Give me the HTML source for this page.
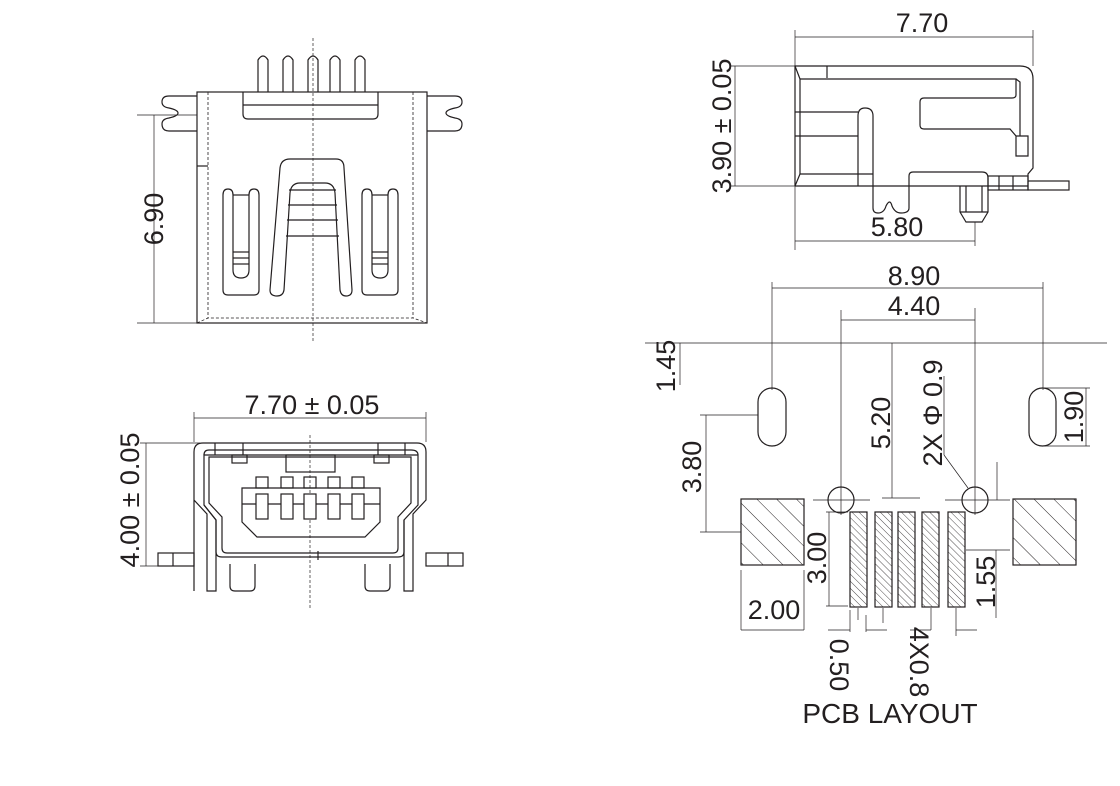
<!DOCTYPE html>
<html><head><meta charset="utf-8"><style>
html,body{margin:0;padding:0;background:#fff;}
svg{display:block}
text{font-family:"Liberation Sans",sans-serif;fill:#231f20;}
</style></head><body>
<svg width="1120" height="786" viewBox="0 0 1120 786" xmlns="http://www.w3.org/2000/svg">
<defs>
<pattern id="h1" patternUnits="userSpaceOnUse" width="14" height="14" patternTransform="rotate(-45)"><line x1="0" y1="0" x2="0" y2="14" stroke="#231f20" stroke-width="1"/></pattern>
<pattern id="h2" patternUnits="userSpaceOnUse" width="5" height="5" patternTransform="rotate(-45)"><line x1="0" y1="0" x2="0" y2="5" stroke="#231f20" stroke-width="0.8"/></pattern>
</defs>
<g fill="none" stroke="#231f20" stroke-width="1.2">
<!-- VIEW 1 top-left -->
<line x1="313" y1="38" x2="313" y2="342" stroke-dasharray="3,2" stroke-width="0.7"/>
<rect x="197" y="92" width="230" height="231"/>
<line x1="208" y1="92" x2="208" y2="318" stroke-dasharray="3,2" stroke-width="0.8"/>
<line x1="413" y1="92" x2="413" y2="318" stroke-dasharray="3,2" stroke-width="0.8"/>
<path d="M197,323 L208,318 L413,318 L427,323" stroke-dasharray="3,2" stroke-width="0.8"/>
<line x1="197" y1="166" x2="208" y2="166"/>
<path d="M243,92 L243,114 Q243,119 248,119 L373,119 Q378,119 378,114 L378,92"/>
<line x1="243" y1="105" x2="378" y2="105"/>
<g>
<path d="M258,92 V60 Q263,52 268,60 V92"/>
<path d="M283,92 V60 Q288,52 293,60 V92"/>
<path d="M308,92 V60 Q313,52 318,60 V92"/>
<path d="M330,92 V60 Q335,52 340,60 V92"/>
<path d="M355,92 V60 Q360,52 365,60 V92"/>
</g>
<path d="M197,96 L169,96 Q162,96 162,102 Q162,107 169,108 Q178,110 178,113 Q178,116 169,118 Q162,119 162,124 Q162,131 169,131 L197,131"/>
<path d="M427,96 L455,96 Q462,96 462,102 Q462,107 455,108 Q446,110 446,113 Q446,116 455,118 Q462,119 462,124 Q462,131 455,131 L427,131"/>
<path d="M270,290 L280,168 Q281,159 290,159 L336,159 Q344,159 344,168 L352,290 Q352,296 346,296 Q341,296 340,290 L335,193 Q334,183 325,183 L300,183 Q291,183 290,193 L284,290 Q283,296 277,296 Q270,296 270,290"/>
<line x1="289" y1="190" x2="336" y2="190"/><line x1="288" y1="205" x2="337" y2="205"/><line x1="287" y1="220" x2="338" y2="220"/><line x1="286" y1="236" x2="339" y2="236"/>
<path d="M223,195 Q223,189 228,189 Q233,189 233,195 L233,270 Q233,278 241,278 Q249,278 249,270 L249,195 Q249,189 254,189 Q259,189 259,195 L259,290 Q259,295 254,295 L228,295 Q223,295 223,290 Z"/>
<line x1="233" y1="195" x2="249" y2="195"/><line x1="233" y1="252" x2="249" y2="252"/><line x1="233" y1="258" x2="249" y2="258"/><line x1="233" y1="264" x2="249" y2="264"/>
<path d="M362,195 Q362,189 367,189 Q372,189 372,195 L372,270 Q372,278 380,278 Q388,278 388,270 L388,195 Q388,189 393,189 Q398,189 398,195 L398,290 Q398,295 393,295 L367,295 Q362,295 362,290 Z"/>
<line x1="372" y1="195" x2="388" y2="195"/><line x1="372" y1="252" x2="388" y2="252"/><line x1="372" y1="258" x2="388" y2="258"/><line x1="372" y1="264" x2="388" y2="264"/>
<g stroke-width="0.7">
<line x1="137" y1="115" x2="197" y2="115"/><line x1="137" y1="323" x2="197" y2="323"/><line x1="154" y1="115" x2="154" y2="323"/>
</g>
<!-- VIEW 2 front -->
<line x1="310" y1="435" x2="310" y2="608" stroke-dasharray="3,2" stroke-width="0.7"/>
<g stroke-width="0.7"><line x1="194" y1="412" x2="194" y2="442"/><line x1="426" y1="412" x2="426" y2="442"/><line x1="194" y1="418" x2="426" y2="418"/>
<line x1="140" y1="443" x2="200" y2="443"/><line x1="140" y1="566" x2="158" y2="566"/><line x1="146" y1="443" x2="146" y2="566"/></g>
<path d="M194,591 L194,452 Q194,443 203,443 L417,443 Q426,443 426,452 L426,500 L413,514 L413,591 L404,591 L404,520 L418,505 L418,455 L204,455 L204,505 L216,520 L216,591 L207,591 L207,514 L194,500"/>
<path d="M204,455 Q204,450 209,450 L411,450 Q418,450 418,455"/>
<path d="M209,457 L411,457 L411,503 L398,517 L398,548 Q398,553 393,553 L227,553 Q222,553 222,548 L222,517 L209,503 Z"/>
<path d="M204,505 L216,520 L216,552 Q216,557 222,557 L398,557 Q404,557 404,552 L404,520"/>
<line x1="215" y1="443" x2="215" y2="455"/><line x1="243" y1="443" x2="243" y2="455"/><line x1="378" y1="443" x2="378" y2="455"/><line x1="405" y1="443" x2="405" y2="455"/>
<line x1="318" y1="551" x2="318" y2="560"/>
<rect x="232" y="455" width="15" height="8"/><rect x="374" y="455" width="15" height="8"/><rect x="286" y="455" width="49" height="17"/>
<path d="M242,488 L380,488 L380,522 L365,537 L257,537 L242,522 Z"/>
<line x1="242" y1="504" x2="380" y2="504"/>
<g>
<rect x="256" y="477" width="12" height="11"/><rect x="281" y="477" width="12" height="11"/><rect x="304" y="477" width="12" height="11"/><rect x="328" y="477" width="12" height="11"/><rect x="352" y="477" width="12" height="11"/>
<rect x="256" y="494" width="12" height="25" fill="#fff"/><rect x="281" y="494" width="12" height="25" fill="#fff"/><rect x="304" y="494" width="12" height="25" fill="#fff"/><rect x="328" y="494" width="12" height="25" fill="#fff"/><rect x="352" y="494" width="12" height="25" fill="#fff"/>
</g>
<path d="M230,564 L230,586 Q230,591 235,591 L250,591 Q255,591 255,586 L255,564"/>
<path d="M365,564 L365,586 Q365,591 370,591 L385,591 Q390,591 390,586 L390,564"/>
<rect x="158" y="553" width="36" height="13"/><line x1="173" y1="553" x2="173" y2="566"/>
<rect x="426" y="553" width="37" height="13"/><line x1="448" y1="553" x2="448" y2="566"/>
<!-- VIEW 3 side -->
<g stroke-width="0.7"><line x1="795" y1="30" x2="795" y2="250"/><line x1="1033" y1="30" x2="1033" y2="66"/><line x1="795" y1="37" x2="1033" y2="37"/>
<line x1="730" y1="66" x2="795" y2="66"/><line x1="730" y1="186" x2="795" y2="186"/><line x1="735" y1="66" x2="735" y2="186"/>
<line x1="795" y1="241" x2="975" y2="241"/><line x1="975" y1="222" x2="975" y2="246"/></g>
<path d="M795,186 L795,66 L1020,66 Q1033,66 1033,79 L1033,168 L1028,174 L1028,180"/>
<path d="M800,79 L1016,79 L1016,95 Q1016,98 1012,98 L924,98 Q920,98 920,102 L920,125 Q920,129 924,129 L1010,129 L1016,136 L1016,156 L1028,156 L1028,136 L1016,136 M1016,79 L1020,82 L1020,136"/>
<line x1="827" y1="66" x2="827" y2="78"/>
<line x1="795" y1="66" x2="800" y2="79"/><line x1="800" y1="79" x2="800" y2="174"/><line x1="795" y1="186" x2="800" y2="174"/>
<line x1="795" y1="112" x2="858" y2="112"/><line x1="795" y1="136" x2="858" y2="136"/><line x1="800" y1="174" x2="873" y2="174"/>
<path d="M858,186 L858,116 Q858,108 865,108 Q873,108 873,116 L873,208 Q873,213 878,213 Q884,213 886,206 Q890,198 892,206 Q895,213 901,213 Q909,213 909,208 L909,176 Q909,172 913,172 L982,172 Q988,172 988,178 L988,186"/>
<line x1="795" y1="186" x2="1028" y2="186"/>
<rect x="988" y="176" width="40" height="14"/><line x1="999" y1="176" x2="999" y2="190"/><line x1="1013" y1="176" x2="1013" y2="190"/>
<rect x="1028" y="181" width="41" height="9"/>
<path d="M960,186 L960,212 L966,222 L982,222 L988,212 L988,186"/>
<line x1="966" y1="186" x2="966" y2="212"/><line x1="982" y1="186" x2="982" y2="212"/><line x1="960" y1="212" x2="988" y2="212"/>
<!-- PCB layout -->
<g stroke-width="0.7">
<line x1="645" y1="343" x2="1107" y2="343"/>
<line x1="772" y1="282" x2="772" y2="390"/><line x1="1043" y1="282" x2="1043" y2="390"/><line x1="772" y1="288" x2="1043" y2="288"/>
<line x1="841" y1="310" x2="841" y2="515"/><line x1="975" y1="308" x2="975" y2="515"/><line x1="841" y1="320" x2="975" y2="320"/>
<line x1="680" y1="343" x2="680" y2="385"/>
<line x1="700" y1="415" x2="758" y2="415"/><line x1="706" y1="415" x2="706" y2="532"/><line x1="700" y1="532" x2="741" y2="532"/>
<line x1="892" y1="343" x2="892" y2="498"/><line x1="882" y1="498" x2="920" y2="498"/>
<line x1="944" y1="455" x2="968" y2="488"/><line x1="944" y1="376" x2="944" y2="455"/>
<line x1="1043" y1="388" x2="1090" y2="388"/><line x1="1043" y1="446" x2="1090" y2="446"/><line x1="1086" y1="388" x2="1086" y2="446"/>
<line x1="813" y1="500" x2="870" y2="500"/><line x1="945" y1="500" x2="1010" y2="500"/>
<line x1="826" y1="512" x2="848" y2="512"/><line x1="829" y1="512" x2="829" y2="606"/><line x1="826" y1="606" x2="848" y2="606"/>
<line x1="966" y1="550" x2="1010" y2="550"/><line x1="996" y1="550" x2="996" y2="618"/><line x1="997" y1="462" x2="997" y2="500"/>
<line x1="741" y1="570" x2="741" y2="630"/><line x1="804" y1="570" x2="804" y2="630"/><line x1="741" y1="630" x2="804" y2="630"/>
<line x1="850" y1="610" x2="850" y2="632"/><line x1="828" y1="630" x2="850" y2="630"/>
<line x1="858" y1="608" x2="858" y2="620"/><line x1="866" y1="615" x2="866" y2="632"/><line x1="866" y1="630" x2="887" y2="630"/>
<line x1="883" y1="608" x2="883" y2="623"/><line x1="931" y1="608" x2="931" y2="630"/><line x1="910" y1="630" x2="931" y2="630"/>
<line x1="956" y1="608" x2="956" y2="636"/><line x1="956" y1="630" x2="977" y2="630"/>
</g>
<rect x="758" y="388" width="28" height="58" rx="14"/>
<rect x="1029" y="388" width="27" height="58" rx="13.5"/>
<circle cx="841" cy="500" r="13"/><circle cx="975" cy="500" r="13"/>
<rect x="741" y="499" width="63" height="66" fill="url(#h1)"/>
<rect x="1013" y="499" width="63" height="66" fill="url(#h1)"/>
<rect x="850" y="512" width="17" height="95" fill="url(#h2)"/>
<rect x="875" y="512" width="17" height="95" fill="url(#h2)"/>
<rect x="898" y="512" width="17" height="95" fill="url(#h2)"/>
<rect x="922" y="512" width="17" height="95" fill="url(#h2)"/>
<rect x="948" y="512" width="17" height="95" fill="url(#h2)"/>
</g>
<g font-size="27">
<text transform="translate(163,219) rotate(-90)" text-anchor="middle">6.90</text>
<text x="312" y="414" text-anchor="middle">7.70 ± 0.05</text>
<text transform="translate(139,500) rotate(-90)" text-anchor="middle">4.00 ± 0.05</text>
<text x="922" y="32" text-anchor="middle">7.70</text>
<text transform="translate(731,126) rotate(-90)" text-anchor="middle">3.90 ± 0.05</text>
<text x="897" y="236" text-anchor="middle">5.80</text>
<text x="914" y="285" text-anchor="middle">8.90</text>
<text x="914" y="315" text-anchor="middle">4.40</text>
<text transform="translate(675,366) rotate(-90)" text-anchor="middle">1.45</text>
<text transform="translate(701,467) rotate(-90)" text-anchor="middle">3.80</text>
<text transform="translate(890,423) rotate(-90)" text-anchor="middle">5.20</text>
<text transform="translate(942,413) rotate(-90)" text-anchor="middle">2X Φ 0.9</text>
<text transform="translate(1083,417) rotate(-90)" text-anchor="middle">1.90</text>
<text transform="translate(826,558) rotate(-90)" text-anchor="middle">3.00</text>
<text transform="translate(995,582) rotate(-90)" text-anchor="middle">1.55</text>
<text x="774" y="619" text-anchor="middle">2.00</text>
<text transform="translate(830,665) rotate(90)" text-anchor="middle">0.50</text>
<text transform="translate(910,662) rotate(90)" text-anchor="middle">4X0.8</text>
<text x="890" y="723" text-anchor="middle" font-size="28">PCB  LAYOUT</text>
</g>
</svg>
</body></html>
